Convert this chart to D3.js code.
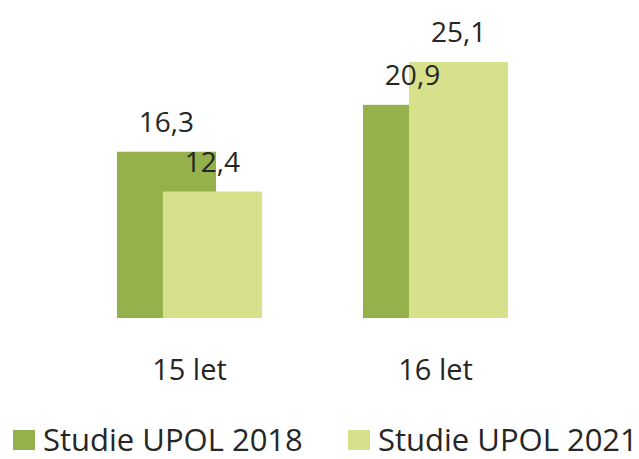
<!DOCTYPE html>
<html>
<head>
<meta charset="utf-8">
<script src="https://cdn.jsdelivr.net/npm/d3@7"></script>
<style>
  body { margin: 0; background: #fff; }
  text { font-family: "Open Sans", "Noto Sans", sans-serif; fill: #262626; }
</style>
</head>
<body>
<svg></svg>
<script>
var width = 639;
var height = 459;

// data
const categories = ["15 let", "16 let"];
const series = ["Studie UPOL 2018", "Studie UPOL 2021"];
const values2018 = [16.3, 20.9];
const values2021 = [12.4, 25.1];
const colors = ["#94b14b", "#d7e08b"];

const svg = d3.select('svg')
    .attr('width', width)
    .attr('height', height);

const baseline = 318;
const y = d3.scaleLinear()
    .domain([0, 30])
    .range([baseline, baseline - 306]);

const x = d3.scaleBand()
    .domain(categories)
    .range([40, 585])
    .paddingInner(0.41)
    .paddingOuter(0.3126);

const barW = x.bandwidth() * 0.683;
const xs = d3.scalePoint()
    .domain(series)
    .range([0, x.bandwidth() - barW]);

const rows = [];
series.forEach(function(s, si) {
    const vals = si === 0 ? values2018 : values2021;
    categories.forEach(function(c, ci) {
        rows.push({ series: s, si: si, cat: c, value: vals[ci] });
    });
});

svg.append('g').selectAll('rect')
    .data(rows)
    .enter().append('rect')
    .attr('x', d => x(d.cat) + xs(d.series))
    .attr('y', d => y(d.value))
    .attr('width', barW)
    .attr('height', d => y(0) - y(d.value))
    .attr('fill', d => colors[d.si]);

const fmt = v => d3.format('.1f')(v).replace('.', ',');

svg.append('g').selectAll('text')
    .data(rows)
    .enter().append('text')
    .attr('x', d => x(d.cat) + xs(d.series) + barW / 2)
    .attr('y', d => y(d.value) - 20)
    .attr('text-anchor', 'middle')
    .style('font-size', '28px')
    .text(d => fmt(d.value));

// category axis, no line or ticks
const xAxis = svg.append('g')
    .attr('transform', `translate(0, ${baseline})`)
    .call(d3.axisBottom(x).tickSize(0).tickPadding(62));
xAxis.select('.domain').remove();
xAxis.selectAll('text')
    .attr('dy', null)
    .style('font-size', '29px')
    .style('font-family', '"Open Sans", sans-serif')
    .attr('fill', '#262626');

// legend
const legendX = [13, 348];
const legend = svg.append('g').selectAll('g')
    .data(series)
    .enter().append('g')
    .attr('transform', (d, i) => `translate(${legendX[i]}, 430)`);
legend.append('rect')
    .attr('width', 22)
    .attr('height', 20)
    .attr('fill', (d, i) => colors[i]);
legend.append('text')
    .attr('x', 30)
    .attr('y', 21)
    .style('font-size', '31px')
    .text(d => d);
</script>
</body>
</html>
